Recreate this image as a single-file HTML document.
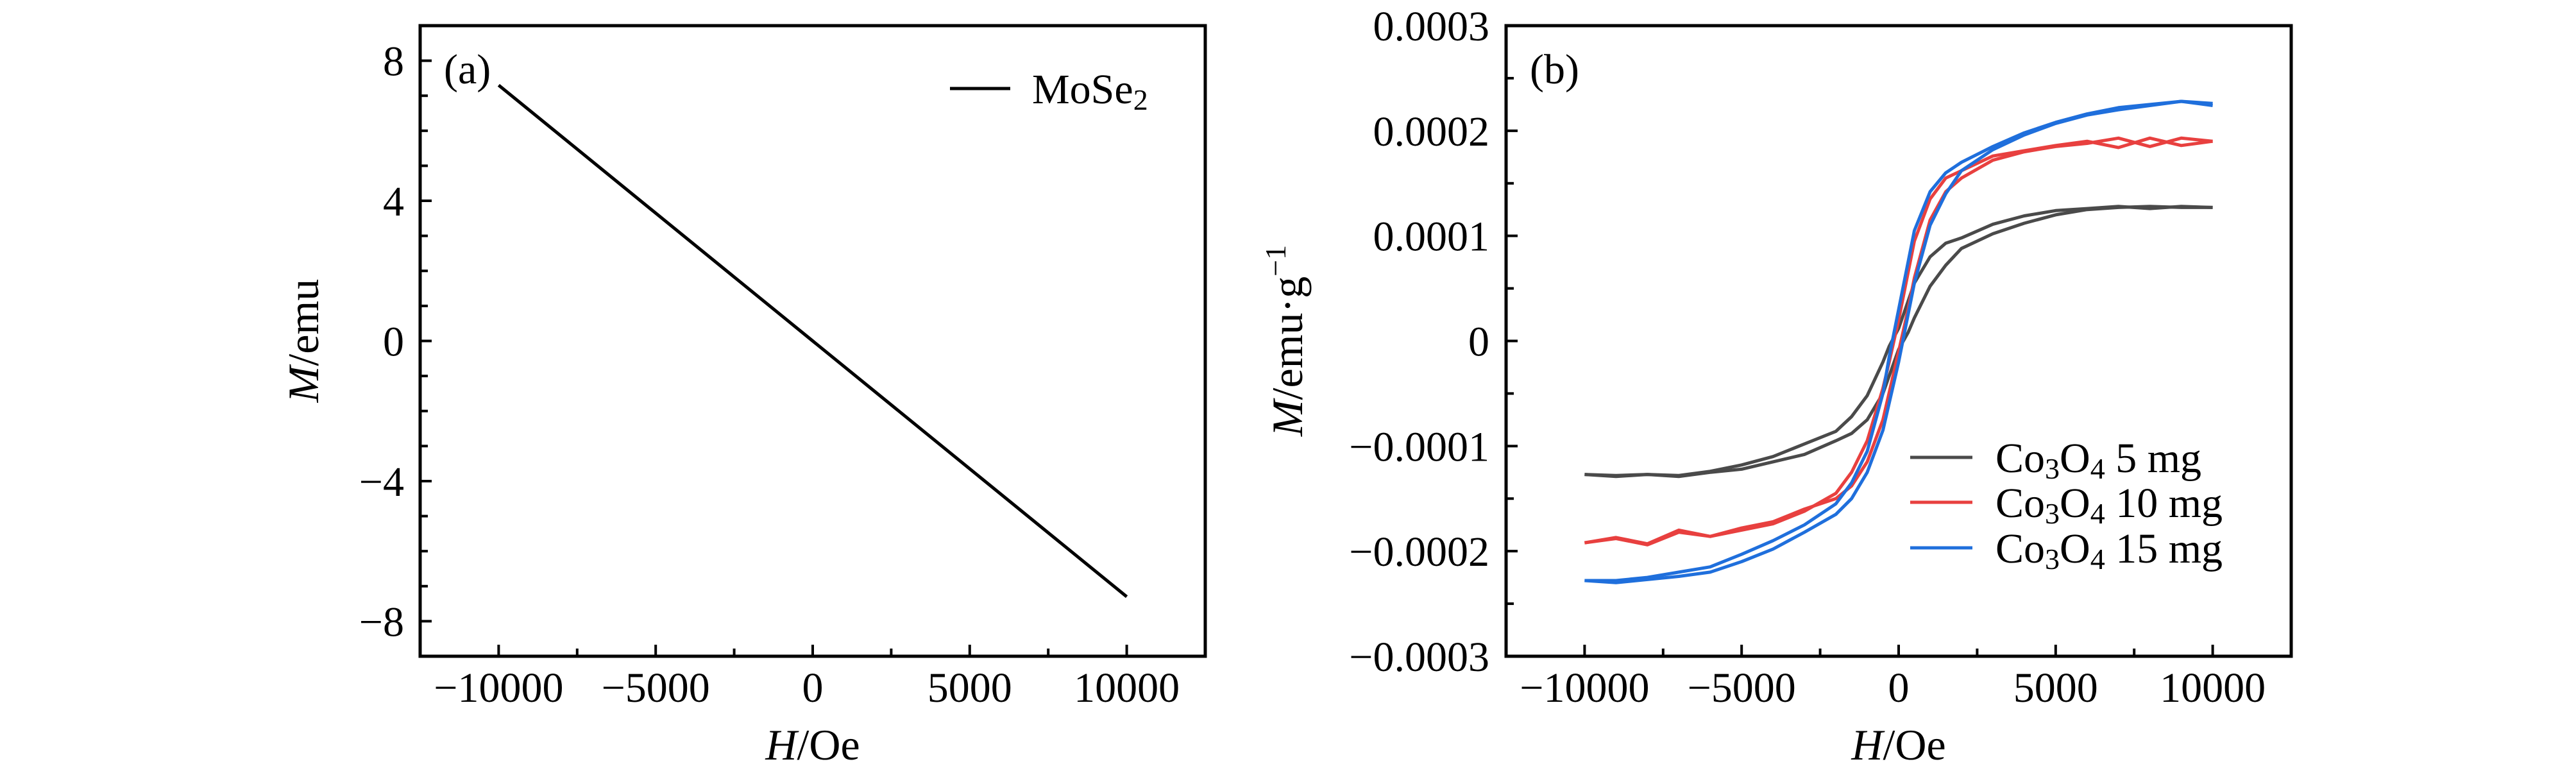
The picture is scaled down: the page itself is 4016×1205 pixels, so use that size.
<!DOCTYPE html>
<html><head><meta charset="utf-8">
<style>
html,body{margin:0;padding:0;background:#fff;}
svg{display:block;}
text{font-family:"Liberation Serif",serif;fill:#000;}
</style></head>
<body>
<svg id="fig" width="4016" height="1205" viewBox="0 0 4016 1205" xmlns="http://www.w3.org/2000/svg">
<g id="pa"></g>
<g id="pb"></g>
</svg>
<script>
// ---------- Panel (a) data ----------
const aH = [-10000, -5000, 0, 5000, 10000];
const aM = [7.3, 3.65, 0.0, -3.65, -7.3];
const aXTicks = [-10000, -5000, 0, 5000, 10000];
const aXTickLabels = ["\u221210000", "\u22125000", "0", "5000", "10000"];
const aYTicks = [8, 4, 0, -4, -8];
const aYTickLabels = ["8", "4", "0", "\u22124", "\u22128"];

// ---------- Panel (b) data (M in units of 1e-4 emu/g) ----------
const bXTicks = [-10000, -5000, 0, 5000, 10000];
const bXTickLabels = ["\u221210000", "\u22125000", "0", "5000", "10000"];
const bYTicks = [3, 2, 1, 0, -1, -2, -3];
const bYTickLabels = ["0.0003", "0.0002", "0.0001", "0", "\u22120.0001", "\u22120.0002", "\u22120.0003"];

const hDown = [10000, 9000, 8000, 7000, 6000, 5000, 4000, 3000, 2000, 1500, 1000, 500, 0, -300, -500, -1000, -1500, -2000, -3000, -4000, -5000, -6000, -7000, -8000, -9000, -10000];
const hUp   = [-10000, -9000, -8000, -7000, -6000, -5000, -4000, -3000, -2000, -1500, -1000, -500, 0, 300, 500, 1000, 1500, 2000, 3000, 4000, 5000, 6000, 7000, 8000, 9000, 10000];

const blackDown = [1.27, 1.28, 1.26, 1.28, 1.26, 1.24, 1.19, 1.11, 0.98, 0.93, 0.80, 0.55, 0.12, -0.05, -0.20, -0.52, -0.72, -0.86, -0.98, -1.10, -1.18, -1.24, -1.28, -1.27, -1.28, -1.27];
const blackUp   = [-1.27, -1.29, -1.27, -1.29, -1.25, -1.22, -1.15, -1.08, -0.95, -0.88, -0.75, -0.50, -0.08, 0.08, 0.22, 0.52, 0.72, 0.88, 1.02, 1.12, 1.20, 1.25, 1.27, 1.28, 1.27, 1.27];

const redDown = [1.90, 1.86, 1.93, 1.84, 1.90, 1.86, 1.81, 1.76, 1.62, 1.55, 1.35, 0.95, 0.20, -0.20, -0.45, -0.95, -1.25, -1.45, -1.62, -1.74, -1.80, -1.86, -1.80, -1.93, -1.87, -1.92];
const redUp   = [-1.92, -1.88, -1.94, -1.82, -1.86, -1.78, -1.72, -1.60, -1.50, -1.38, -1.15, -0.75, -0.10, 0.30, 0.60, 1.15, 1.42, 1.55, 1.72, 1.80, 1.85, 1.88, 1.93, 1.85, 1.93, 1.90];

const blueDown = [2.26, 2.28, 2.25, 2.22, 2.16, 2.08, 1.98, 1.85, 1.70, 1.60, 1.42, 1.05, 0.30, -0.15, -0.50, -1.05, -1.35, -1.55, -1.75, -1.90, -2.03, -2.15, -2.20, -2.25, -2.28, -2.28];
const blueUp   = [-2.28, -2.30, -2.27, -2.24, -2.20, -2.10, -1.98, -1.82, -1.65, -1.50, -1.25, -0.85, -0.20, 0.25, 0.55, 1.10, 1.40, 1.62, 1.82, 1.96, 2.07, 2.15, 2.20, 2.24, 2.28, 2.24];

const NS = "http://www.w3.org/2000/svg";
function mk(parent, tag, attrs, txt) {
  const e = document.createElementNS(NS, tag);
  for (const k in attrs) e.setAttribute(k, attrs[k]);
  if (txt !== undefined) e.textContent = txt;
  parent.appendChild(e);
  return e;
}
function scale(d0, d1, r0, r1) { return v => r0 + (v - d0) / (d1 - d0) * (r1 - r0); }
function pathD(xs, ys, sx, sy) {
  return xs.map((v, i) => (i ? "L" : "M") + sx(v).toFixed(1) + "," + sy(ys[i]).toFixed(1)).join(" ");
}
const FS = 66, TS = 68;

// ===== Panel A =====
const pa = document.getElementById("pa");
const ax = scale(-12500, 12500, 655, 1879);
const ay = scale(9, -9, 40, 1023);
for (let v = -10000; v <= 10000; v += 2500) {
  const t = mk(pa, "line", {x1: ax(v), x2: ax(v), y1: 1023, y2: 1023 - (v % 5000 === 0 ? 18 : 12), stroke: "#000", "stroke-width": 4});
  
  
}
for (let v = -8; v <= 8; v += 1) {
  const t = mk(pa, "line", {x1: 655, x2: 655 + (v % 4 === 0 ? 18 : 12), y1: ay(v), y2: ay(v), stroke: "#000", "stroke-width": 4});
  
  
}
aXTicks.forEach((v, i) => {
  const t = mk(pa, "text", {x: ax(v), y: 1094, "font-size": FS, "text-anchor": "middle"}, aXTickLabels[i]);
  
  
});
aYTicks.forEach((v, i) => {
  const t = mk(pa, "text", {x: 630, y: ay(v) + 23, "font-size": FS, "text-anchor": "end"}, aYTickLabels[i]);
  
  
});
const aLine = mk(pa, "path", {d: pathD(aH, aM, ax, ay), fill: "none", stroke: "#000", "stroke-width": 5});


const aFrame = mk(pa, "rect", {x: 655, y: 40, width: 1224, height: 983, fill: "none", stroke: "#000", "stroke-width": 5});


const aTag = mk(pa, "text", {x: 692, y: 130, "font-size": FS}, "(a)");


const aLegLine = mk(pa, "line", {x1: 1481, x2: 1575, y1: 138, y2: 138, stroke: "#000", "stroke-width": 5});


const aLeg = mk(pa, "text", {x: 1609, y: 161, "font-size": FS});


aLeg.innerHTML = 'MoSe<tspan font-size="46" dy="10">2</tspan>';
const aXl = mk(pa, "text", {x: 1267, y: 1184, "font-size": TS, "text-anchor": "middle"});


aXl.innerHTML = '<tspan font-style="italic">H</tspan>/Oe';
const aYl = mk(pa, "text", {x: 0, y: 0, "font-size": TS, "text-anchor": "middle", transform: "translate(496,531) rotate(-90)"});


aYl.innerHTML = '<tspan font-style="italic">M</tspan>/emu';

// ===== Panel B =====
const pb = document.getElementById("pb");
const bx = scale(-12500, 12500, 2348, 3572);
const by = scale(3, -3, 40, 1023);
for (let v = -10000; v <= 10000; v += 2500) {
  const t = mk(pb, "line", {x1: bx(v), x2: bx(v), y1: 1023, y2: 1023 - (v % 5000 === 0 ? 18 : 12), stroke: "#000", "stroke-width": 4});
  
  
}
for (let k = -6; k <= 6; k++) {
  const v = k * 0.5;
  const t = mk(pb, "line", {x1: 2348, x2: 2348 + (k % 2 === 0 ? 18 : 12), y1: by(v), y2: by(v), stroke: "#000", "stroke-width": 4});
  
  
}
bXTicks.forEach((v, i) => {
  const t = mk(pb, "text", {x: bx(v), y: 1094, "font-size": FS, "text-anchor": "middle"}, bXTickLabels[i]);
  
  
});
bYTicks.forEach((v, i) => {
  const t = mk(pb, "text", {x: 2322, y: by(v) + 23, "font-size": FS, "text-anchor": "end"}, bYTickLabels[i]);
  
  
});
const series = [
  {name: "5mg", color: "#4a4a4a", down: blackDown, up: blackUp},
  {name: "10mg", color: "#e8403f", down: redDown, up: redUp},
  {name: "15mg", color: "#1f6fdc", down: blueDown, up: blueUp}
];
series.forEach(s => {
  const p1 = mk(pb, "path", {d: pathD(hDown, s.down, bx, by), fill: "none", stroke: s.color, "stroke-width": 5, "stroke-linejoin": "round"});
  
  
  const p2 = mk(pb, "path", {d: pathD(hUp, s.up, bx, by), fill: "none", stroke: s.color, "stroke-width": 5, "stroke-linejoin": "round"});
  
  
});
const bFrame = mk(pb, "rect", {x: 2348, y: 40, width: 1224, height: 983, fill: "none", stroke: "#000", "stroke-width": 5});


const bTag = mk(pb, "text", {x: 2385, y: 130, "font-size": FS}, "(b)");


const legY = [713, 783, 854];
const legN = ["5 mg", "10 mg", "15 mg"];
series.forEach((s, i) => {
  const l = mk(pb, "line", {x1: 2978, x2: 3075, y1: legY[i], y2: legY[i], stroke: s.color, "stroke-width": 5});
  
  
  const t = mk(pb, "text", {x: 3111, y: legY[i] + 23, "font-size": FS});
  
  
  t.innerHTML = 'Co<tspan font-size="46" dy="10">3</tspan><tspan dy="-10">O</tspan><tspan font-size="46" dy="10">4</tspan><tspan dy="-10"> ' + legN[i] + '</tspan>';
});
const bXl = mk(pb, "text", {x: 2960, y: 1184, "font-size": TS, "text-anchor": "middle"});


bXl.innerHTML = '<tspan font-style="italic">H</tspan>/Oe';
const bYl = mk(pb, "text", {x: 0, y: 0, "font-size": TS, "text-anchor": "middle", transform: "translate(2030,531) rotate(-90)"});


bYl.innerHTML = '<tspan font-style="italic">M</tspan>/emu\u00b7g<tspan font-size="46" dy="-26">\u22121</tspan>';
</script>
</body></html>
